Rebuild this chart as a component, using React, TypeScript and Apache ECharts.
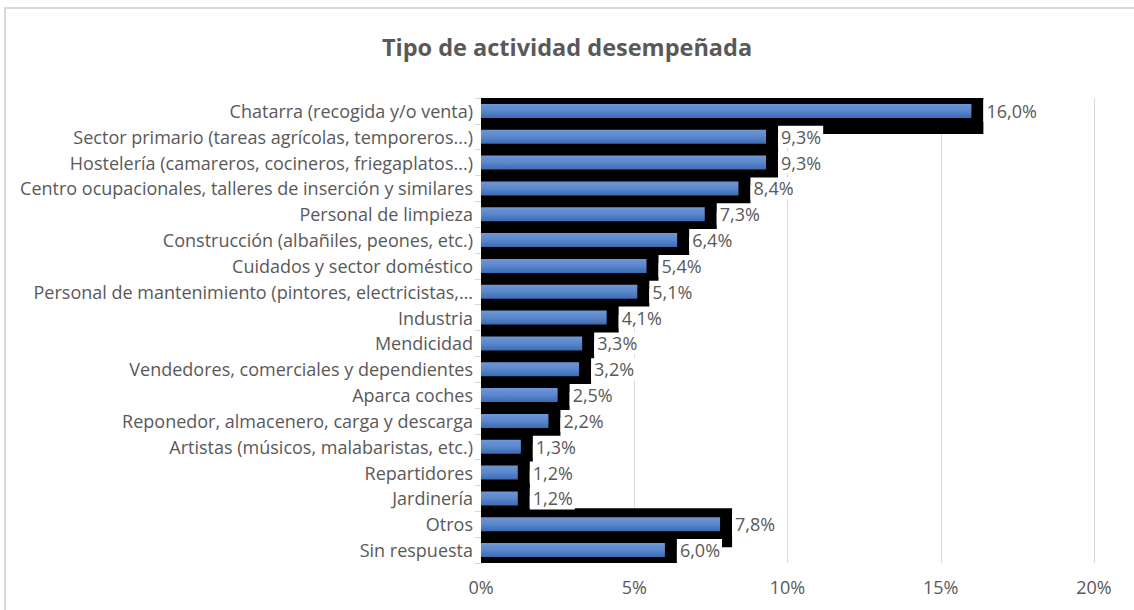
import React, { useEffect, useRef } from "react";
import * as echarts from "echarts";

const categories = [
  "Chatarra (recogida y/o venta)",
  "Sector primario (tareas agrícolas, temporeros...)",
  "Hostelería (camareros, cocineros, friegaplatos...)",
  "Centro ocupacionales, talleres de inserción y similares",
  "Personal de limpieza",
  "Construcción (albañiles, peones, etc.)",
  "Cuidados y sector doméstico",
  "Personal de mantenimiento (pintores, electricistas,…",
  "Industria",
  "Mendicidad",
  "Vendedores, comerciales y dependientes",
  "Aparca coches",
  "Reponedor, almacenero, carga y descarga",
  "Artistas (músicos, malabaristas, etc.)",
  "Repartidores",
  "Jardinería",
  "Otros",
  "Sin respuesta",
];

const values = [16.0, 9.3, 9.3, 8.4, 7.3, 6.4, 5.4, 5.1, 4.1, 3.3, 3.2, 2.5, 2.2, 1.3, 1.2, 1.2, 7.8, 6.0];

const xTicks = { min: 0, max: 20, interval: 5 };

const TITLE = "Tipo de actividad desempeñada";

export default function App() {
  const ref = useRef<HTMLDivElement>(null);

  useEffect(() => {
    if (!ref.current) return;
    const chart = echarts.init(ref.current, undefined, { renderer: "svg" });
    const font = "Open Sans";
    const fs = 18;
    const barW = 14;
    chart.setOption({
      animation: false,
      backgroundColor: "#ffffff",
      title: {
        text: TITLE,
        left: "center",
        top: 30,
        textStyle: { fontFamily: "Open Sans", fontWeight: "bold", fontSize: 23.5, color: "#595959" },
      },
      graphic: [
        {
          type: "rect",
          shape: { x: 5, y: 8, width: 1140, height: 620 },
          style: { fill: "none", stroke: "#d9d9d9", lineWidth: 2 },
          silent: true,
          z: 0,
        },
      ],
      grid: { left: 481, right: 40, top: 98, bottom: 47, containLabel: false },
      xAxis: {
        type: "value",
        min: xTicks.min,
        max: xTicks.max,
        interval: xTicks.interval,
        axisLine: { show: false },
        axisTick: { show: false },
        splitLine: { lineStyle: { color: "#d9d9d9", width: 1 } },
        axisLabel: {
          formatter: "{value}%",
          fontFamily: font,
          fontSize: fs,
          color: "#595959",
          margin: 15,
        },
      },
      yAxis: {
        type: "category",
        inverse: true,
        data: categories,
        axisLine: { show: true, lineStyle: { color: "#d9d9d9", width: 1 } },
        axisTick: { show: true, length: 6, lineStyle: { color: "#d9d9d9" } },
        axisLabel: { fontFamily: font, fontSize: fs, color: "#595959", margin: 8 },
      },
      series: [
        {
          type: "custom",
          z: 1,
          clip: true,
          data: values.map((v, i) => [v, i]),
          encode: { x: 0, y: 1 },
          renderItem: (params: any, api: any) => {
            const v = api.value(0);
            const i = api.value(1);
            const start = api.coord([0, i]);
            const end = api.coord([v, i]);
            const x0 = start[0] - 1;
            const cy = end[1];
            return {
              type: "rect",
              shape: { x: x0, y: cy - barW / 2 - 9, width: end[0] - x0 + 12, height: barW + 25 },
              style: { fill: "#000000" },
            };
          },
          silent: true,
        },
        {
          type: "bar",
          z: 2,
          data: values,
          barWidth: barW,
          itemStyle: {
            color: new echarts.graphic.LinearGradient(0, 0, 0, 1, [
              { offset: 0, color: "#6f96d6" },
              { offset: 0.5, color: "#5a87cc" },
              { offset: 1, color: "#3b6bb3" },
            ]),
          },
          label: {
            show: true,
            position: "right",
            distance: 12,
            formatter: (p: any) => p.value.toFixed(1).replace(".", ",") + "%",
            fontFamily: font,
            fontSize: fs,
            color: "#595959",
            backgroundColor: "#ffffff",
            padding: [2, 2, 2, 3],
          },
        },
      ],
    });
    return () => chart.dispose();
  }, []);

  return (
    <div
      ref={ref}
      style={{ position: "fixed", left: 0, top: 0, width: 1134, height: 610 }}
    />
  );
}
